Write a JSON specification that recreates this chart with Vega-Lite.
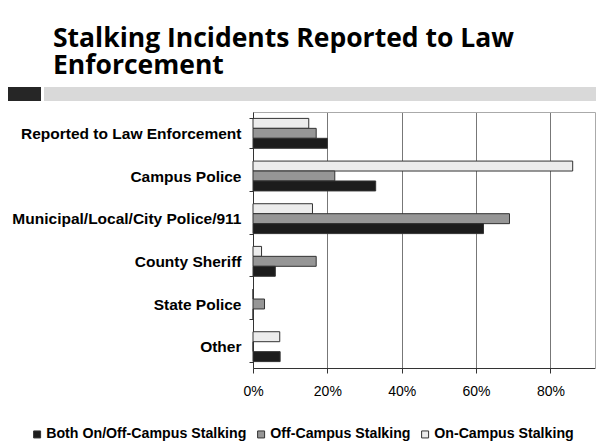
{
  "$schema": "https://vega.github.io/schema/vega-lite/v6.json",
  "background": "white",
  "padding": {"left": 8, "top": 25, "right": 0, "bottom": 0},
  "title": {
    "text": ["Stalking Incidents Reported to Law", "Enforcement"],
    "anchor": "start",
    "dx": 45,
    "font": "Open Sans",
    "fontSize": 26.5,
    "fontWeight": "bold",
    "lineHeight": 27,
    "color": "#000000",
    "offset": 8
  },
  "spacing": 4,
  "vconcat": [
    {
      "spacing": 3,
      "hconcat": [
        {
          "width": 33,
          "height": 14,
          "data": {"values": []},
          "mark": "text",
          "encoding": {},
          "view": {"fill": "#262626", "stroke": null}
        },
        {
          "width": 552,
          "height": 14,
          "data": {"values": []},
          "mark": "text",
          "encoding": {},
          "view": {"fill": "#d9d9d9", "stroke": null}
        }
      ]
    },
    {
      "width": 587,
      "height": 256,
      "view": {"stroke": null},
      "data": {
        "values": [
          {"category": "Reported to Law Enforcement", "series": "On-Campus Stalking", "value": 0.15},
          {"category": "Reported to Law Enforcement", "series": "Off-Campus Stalking", "value": 0.17},
          {"category": "Reported to Law Enforcement", "series": "Both On/Off-Campus Stalking", "value": 0.20},
          {"category": "Campus Police", "series": "On-Campus Stalking", "value": 0.86},
          {"category": "Campus Police", "series": "Off-Campus Stalking", "value": 0.22},
          {"category": "Campus Police", "series": "Both On/Off-Campus Stalking", "value": 0.33},
          {"category": "Municipal/Local/City Police/911", "series": "On-Campus Stalking", "value": 0.16},
          {"category": "Municipal/Local/City Police/911", "series": "Off-Campus Stalking", "value": 0.69},
          {"category": "Municipal/Local/City Police/911", "series": "Both On/Off-Campus Stalking", "value": 0.62},
          {"category": "County Sheriff", "series": "On-Campus Stalking", "value": 0.023},
          {"category": "County Sheriff", "series": "Off-Campus Stalking", "value": 0.17},
          {"category": "County Sheriff", "series": "Both On/Off-Campus Stalking", "value": 0.06},
          {"category": "State Police", "series": "On-Campus Stalking", "value": 0},
          {"category": "State Police", "series": "Off-Campus Stalking", "value": 0.031},
          {"category": "State Police", "series": "Both On/Off-Campus Stalking", "value": 0},
          {"category": "Other", "series": "On-Campus Stalking", "value": 0.072},
          {"category": "Other", "series": "Off-Campus Stalking", "value": 0},
          {"category": "Other", "series": "Both On/Off-Campus Stalking", "value": 0.073}
        ]
      },
      "encoding": {
        "yOffset": {
          "field": "series",
          "type": "nominal",
          "sort": ["On-Campus Stalking", "Off-Campus Stalking", "Both On/Off-Campus Stalking"],
          "scale": {"paddingInner": 0, "paddingOuter": 0}
        }
      },
      "layer": [
        {
          "mark": {"type": "bar", "stroke": "#333333", "strokeWidth": 1},
          "encoding": {
            "y": {
              "field": "category",
              "type": "nominal",
              "sort": ["Reported to Law Enforcement", "Campus Police", "Municipal/Local/City Police/911", "County Sheriff", "State Police", "Other"],
              "scale": {"paddingInner": 0.3, "paddingOuter": 0.15},
              "axis": {
                "title": null,
                "orient": "left",
                "offset": -245,
                "labelFont": "Liberation Sans",
                "labelFontSize": 15.5,
                "labelFontWeight": "bold",
                "labelColor": "#000000",
                "labelLimit": 300,
                "tickBand": "extent",
                "tickSize": 4,
                "labelPadding": 8,
                "domainColor": "#333333",
                "tickColor": "#333333",
                "grid": false
              }
            },
            "x": {
              "field": "value",
              "type": "quantitative",
              "scale": {"domain": [0, 0.92], "nice": false, "range": [245, 587]},
              "axis": {
                "title": null,
                "orient": "bottom",
                "format": ".0%",
                "values": [0, 0.2, 0.4, 0.6, 0.8],
                "labelFlush": false,
                "grid": true,
                "gridColor": "#777777",
                "gridWidth": 1,
                "tickSize": 5,
                "labelFont": "Liberation Sans",
                "labelFontSize": 14,
                "labelColor": "#000000",
                "labelPadding": 11,
                "domainColor": "#333333",
                "tickColor": "#333333"
              }
            },
            "color": {
              "field": "series",
              "type": "nominal",
              "scale": {
                "domain": ["Both On/Off-Campus Stalking", "Off-Campus Stalking", "On-Campus Stalking"],
                "range": ["#1c1c1c", "#969696", "#ececec"]
              },
              "legend": {
                "orient": "none",
                "legendX": 22,
                "legendY": 340,
                "direction": "horizontal",
                "title": null,
                "padding": 0,
                "symbolType": "square",
                "symbolSize": 49,
                "symbolStrokeColor": "#333333",
                "symbolStrokeWidth": 1,
                "symbolOpacity": 1,
                "labelFont": "Liberation Sans",
                "labelFontSize": 14.2,
                "labelFontWeight": "bold",
                "labelColor": "#000000",
                "labelLimit": 300,
                "labelOffset": 2,
                "columnPadding": 7
              }
            }
          }
        },
        {
          "mark": {"type": "point", "opacity": 0},
          "encoding": {
            "y": {
              "field": "category",
              "type": "nominal",
              "sort": ["Reported to Law Enforcement", "Campus Police", "Municipal/Local/City Police/911", "County Sheriff", "State Police", "Other"],
              "axis": {
                "title": null,
                "orient": "right",
                "labels": false,
                "ticks": false,
                "grid": false,
                "domainColor": "#aaaaaa"
              }
            },
            "x": {
              "field": "value",
              "type": "quantitative",
              "axis": {
                "title": null,
                "orient": "top",
                "labels": false,
                "ticks": false,
                "grid": false,
                "domainColor": "#aaaaaa"
              }
            }
          }
        }
      ],
      "resolve": {"axis": {"x": "independent", "y": "independent"}}
    }
  ]
}
